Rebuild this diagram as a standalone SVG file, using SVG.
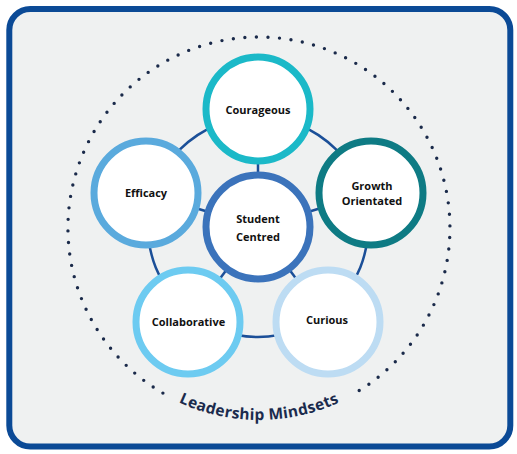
<svg xmlns="http://www.w3.org/2000/svg" width="517" height="454" viewBox="0 0 517 454">
  <defs>
    <style>
      .node { fill: #ffffff; stroke-width: 7; }
      .lbl { font-family: "Open Sans", "Liberation Sans", sans-serif; font-weight: 700; font-size: 11px; fill: #111111; text-anchor: middle; }
      .conn { fill: none; stroke: #1b4f98; stroke-width: 2.5; }
      .title { font-family: "Open Sans", "Liberation Sans", sans-serif; font-weight: 700; font-size: 15.5px; letter-spacing: 0.3px; fill: #1b2b4d; }
    </style>
    <path id="titlePath" d="M 78.6 293.7 A 192 192 0 0 0 439.4 293.7" fill="none"/>
  </defs>

  <rect x="9.3" y="9" width="501" height="437.5" rx="21" ry="21" fill="#eff1f1" stroke="#0b4a96" stroke-width="6"/>

  <path d="M 162.9 393.1 A 191 191 0 1 1 349.8 396.0" fill="none" stroke="#1a2a4a" stroke-width="3.4" stroke-linecap="round" stroke-dasharray="0 11.55"/>

  <text class="title"><textPath href="#titlePath" startOffset="50%" text-anchor="middle">Leadership Mindsets</textPath></text>

  <g id="connectors">
    <circle class="conn" cx="258" cy="227" r="110"/>
    <line class="conn" x1="258" y1="227" x2="258" y2="109"/>
    <line class="conn" x1="258" y1="227" x2="371" y2="193"/>
    <line class="conn" x1="258" y1="227" x2="328" y2="322"/>
    <line class="conn" x1="258" y1="227" x2="188" y2="322"/>
    <line class="conn" x1="258" y1="227" x2="146" y2="193"/>
  </g>

  <g id="courageous">
    <circle class="node" cx="258" cy="109" r="52" stroke="#1bb9c8"/>
    <text class="lbl" x="258" y="114">Courageous</text>
  </g>
  <g id="growth">
    <circle class="node" cx="371" cy="193" r="52" stroke="#0e7b84"/>
    <text class="lbl" x="372" y="190">Growth</text>
    <text class="lbl" x="372" y="205">Orientated</text>
  </g>
  <g id="curious">
    <circle class="node" cx="328" cy="322" r="52" stroke="#bddcf3"/>
    <text class="lbl" x="327" y="324">Curious</text>
  </g>
  <g id="collaborative">
    <circle class="node" cx="188" cy="322" r="52" stroke="#6dcbf1"/>
    <text class="lbl" x="188.5" y="326">Collaborative</text>
  </g>
  <g id="efficacy">
    <circle class="node" cx="146" cy="193" r="52" stroke="#5aaadd"/>
    <text class="lbl" x="146" y="197">Efficacy</text>
  </g>
  <g id="student-centred">
    <circle class="node" cx="258" cy="227" r="52" stroke="#3b73bb"/>
    <text class="lbl" x="258" y="223">Student</text>
    <text class="lbl" x="258" y="241">Centred</text>
  </g>
</svg>
